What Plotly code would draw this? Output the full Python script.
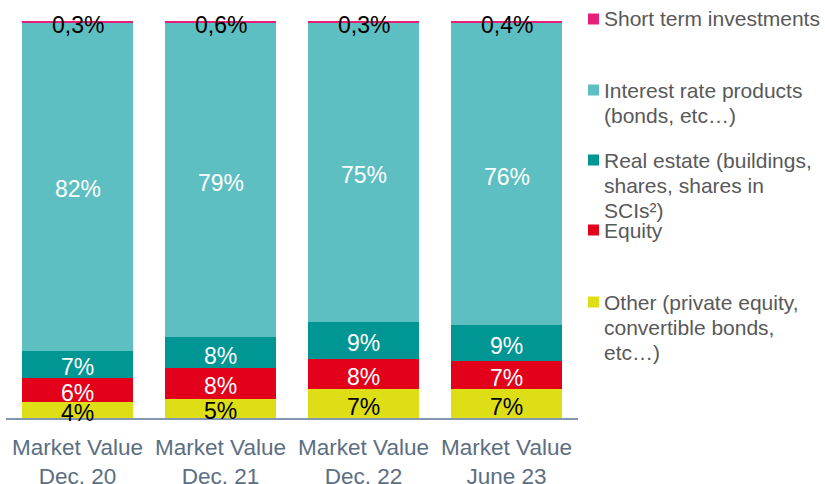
import plotly.graph_objects as go

categories = ["Market Value<br>Dec. 20", "Market Value<br>Dec. 21", "Market Value<br>Dec. 22", "Market Value<br>June 23"]

other = [4.0, 4.9, 7.2, 7.2]
equity = [6.0, 7.6, 7.7, 7.2]
real_estate = [7.0, 7.9, 9.3, 9.0]
interest = [82.7, 79.0, 75.5, 76.2]
short_term = [0.3, 0.6, 0.3, 0.4]

other_lbl = ["4%", "5%", "7%", "7%"]
equity_lbl = ["6%", "8%", "8%", "7%"]
real_lbl = ["7%", "8%", "9%", "9%"]
interest_lbl = ["82%", "79%", "75%", "76%"]
short_lbl = ["0,3%", "0,6%", "0,3%", "0,4%"]

series = [
    ("Other (private equity, convertible bonds, etc…)", other, other_lbl, "#DEDE17", "#000000"),
    ("Equity", equity, equity_lbl, "#E2001A", "#FFFFFF"),
    ("Real estate (buildings, shares, shares in SCIs²)", real_estate, real_lbl, "#009694", "#FFFFFF"),
    ("Interest rate products (bonds, etc…)", interest, interest_lbl, "#5DBFC1", "#FFFFFF"),
    ("Short term investments", short_term, short_lbl, "#E91E78", "#000000"),
]

FONT = "Liberation Sans, Arial, sans-serif"
fig = go.Figure()
annotations = []
base = [0.0] * len(categories)
for name, vals, lbls, color, tcolor in series:
    fig.add_trace(go.Bar(x=categories, y=vals, name=name, marker=dict(color=color, line=dict(width=0)),
                         showlegend=False, hoverinfo="skip"))
    for c, b, v, t in zip(categories, base, vals, lbls):
        annotations.append(dict(xref="x", yref="y", x=c, y=b + v / 2, text=t, showarrow=False,
                                xanchor="center", yanchor="middle", yshift=-3,
                                font=dict(family=FONT, size=23, color=tcolor)))
    base = [b + v for b, v in zip(base, vals)]

W, H = 825, 484
L, R, T, B = 6, 247, 18, 66
PW, PH = W - L - R, H - T - B

def px(x):
    return (x - L) / PW

def py(y):
    return (H - B - y) / PH

legend = [
    ("#E91E78", 19, ["Short term investments"]),
    ("#5DBFC1", 90, ["Interest rate products", "(bonds, etc…)"]),
    ("#009694", 160, ["Real estate (buildings,", "shares, shares in", "SCIs²)"]),
    ("#E2001A", 230, ["Equity"]),
    ("#DEDE17", 302, ["Other (private equity,", "convertible bonds,", "etc…)"]),
]
shapes = []
for color, y0, lines in legend:
    shapes.append(dict(type="rect", xref="paper", yref="paper", x0=px(588), x1=px(599),
                       y0=py(y0 + 5.5), y1=py(y0 - 5.5), fillcolor=color, line=dict(width=0)))
    for i, line in enumerate(lines):
        annotations.append(dict(xref="paper", yref="paper", x=px(602), y=py(y0 + i * 25),
                                xanchor="left", yanchor="middle", text=line, showarrow=False,
                                font=dict(family=FONT, size=21, color="#595959")))

fig.update_layout(
    barmode="stack",
    bargap=0.23,
    width=W, height=H,
    margin=dict(l=L, r=R, t=T, b=B, pad=0, autoexpand=False),
    plot_bgcolor="white", paper_bgcolor="white",
    shapes=shapes, annotations=annotations,
    xaxis=dict(showline=True, linecolor="#8497B0", linewidth=2, ticks="", showgrid=False,
               automargin=False, ticklabelstandoff=8,
               tickfont=dict(family=FONT, size=22.5, color="#5B6E82")),
    yaxis=dict(visible=False, automargin=False, range=[0, 100 * PH / 397]),
    hovermode=False,
)

fig.write_html("out.html", config={"displayModeBar": False},
               post_script="document.body.style.margin='0';document.body.style.overflow='hidden';")
